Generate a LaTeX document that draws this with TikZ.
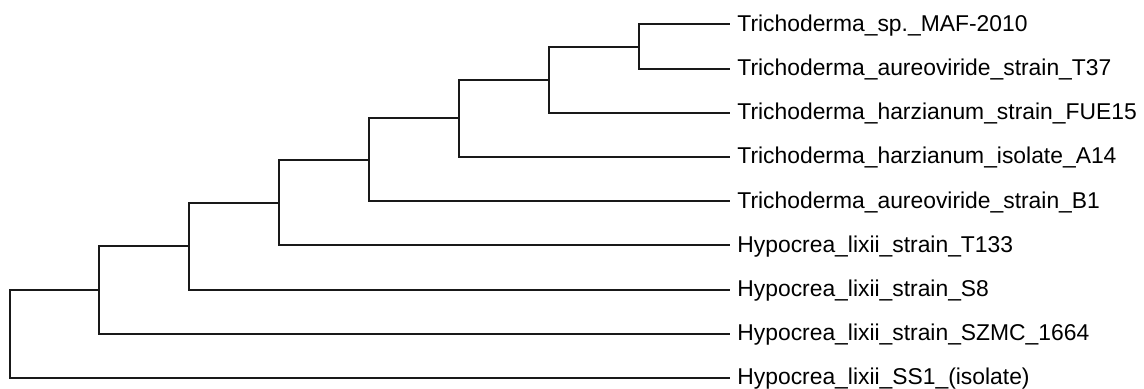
\documentclass[tikz,border=0pt]{standalone}
\usepackage{fontspec}
\setmainfont{Liberation Sans}
\usepackage{tikz}
\usetikzlibrary{positioning}
\usetikzlibrary{calc}

\begin{document}
\begin{tikzpicture}[x=0.5pt, y=-0.5pt,
		branch/.style={line width=1pt, black!90},
		taxon/.style={inner sep=0pt, text height=6.8pt, text depth=0pt, font=\fontsize{11.43}{13.7}\selectfont}]
	\useasboundingbox (0,0) rectangle (1144,389);
	\def\tipx{730}
	% tips
	\coordinate (L1) at (\tipx,24.5);
	\coordinate (L2) at (\tipx,68.7);
	\coordinate (L3) at (\tipx,112.9);
	\coordinate (L4) at (\tipx,157.1);
	\coordinate (L5) at (\tipx,201.3);
	\coordinate (L6) at (\tipx,245.5);
	\coordinate (L7) at (\tipx,289.6);
	\coordinate (L8) at (\tipx,333.8);
	\coordinate (L9) at (\tipx,378);

	% inner nodes
	\coordinate (N1) at (9.5,334);
	\coordinate (N2) at (99.3,290);
	\coordinate (N3) at (189.3,246.1);
	\coordinate (N4) at (279.3,202.7);
	\coordinate (N5) at (369.3,159.9);
	\coordinate (N6) at (459.3,118.4);
	\coordinate (N7) at (549.3,79.8);
	\coordinate (N8) at (639.3,46.6);

	% branches
	\draw[branch] (N1) |- (N2);
	\draw[branch] (N1) |- (L9);
	\draw[branch] (N2) |- (N3);
	\draw[branch] (N2) |- (L8);
	\draw[branch] (N3) |- (N4);
	\draw[branch] (N3) |- (L7);
	\draw[branch] (N4) |- (N5);
	\draw[branch] (N4) |- (L6);
	\draw[branch] (N5) |- (N6);
	\draw[branch] (N5) |- (L5);
	\draw[branch] (N6) |- (N7);
	\draw[branch] (N6) |- (L4);
	\draw[branch] (N7) |- (N8);
	\draw[branch] (N7) |- (L3);
	\draw[branch] (N8) |- (L1);
	\draw[branch] (N8) |- (L2);

	% labels
	\node[taxon, right=3.5pt of L1] (mafsp) {Trichoderma\_sp.\_MAF-2010};
	\node[taxon, right=3.5pt of L2] (aurT37) {Trichoderma\_aureoviride\_strain\_T37};
	\node[taxon, right=3.5pt of L3] (harFUE) {Trichoderma\_harzianum\_strain\_FUE15};
	\node[taxon, right=3.5pt of L4] (harA14) {Trichoderma\_harzianum\_isolate\_A14};
	\node[taxon, right=3.5pt of L5] (aurB1) {Trichoderma\_aureoviride\_strain\_B1};
	\node[taxon, right=3.5pt of L6] (lixT133) {Hypocrea\_lixii\_strain\_T133};
	\node[taxon, right=3.5pt of L7] (lixS8) {Hypocrea\_lixii\_strain\_S8};
	\node[taxon, right=3.5pt of L8] (lixSZMC) {Hypocrea\_lixii\_strain\_SZMC\_1664};
	\node[taxon, right=3.5pt of L9] (lixSS1) {Hypocrea\_lixii\_SS1\_(isolate)};
\end{tikzpicture}
\end{document}
